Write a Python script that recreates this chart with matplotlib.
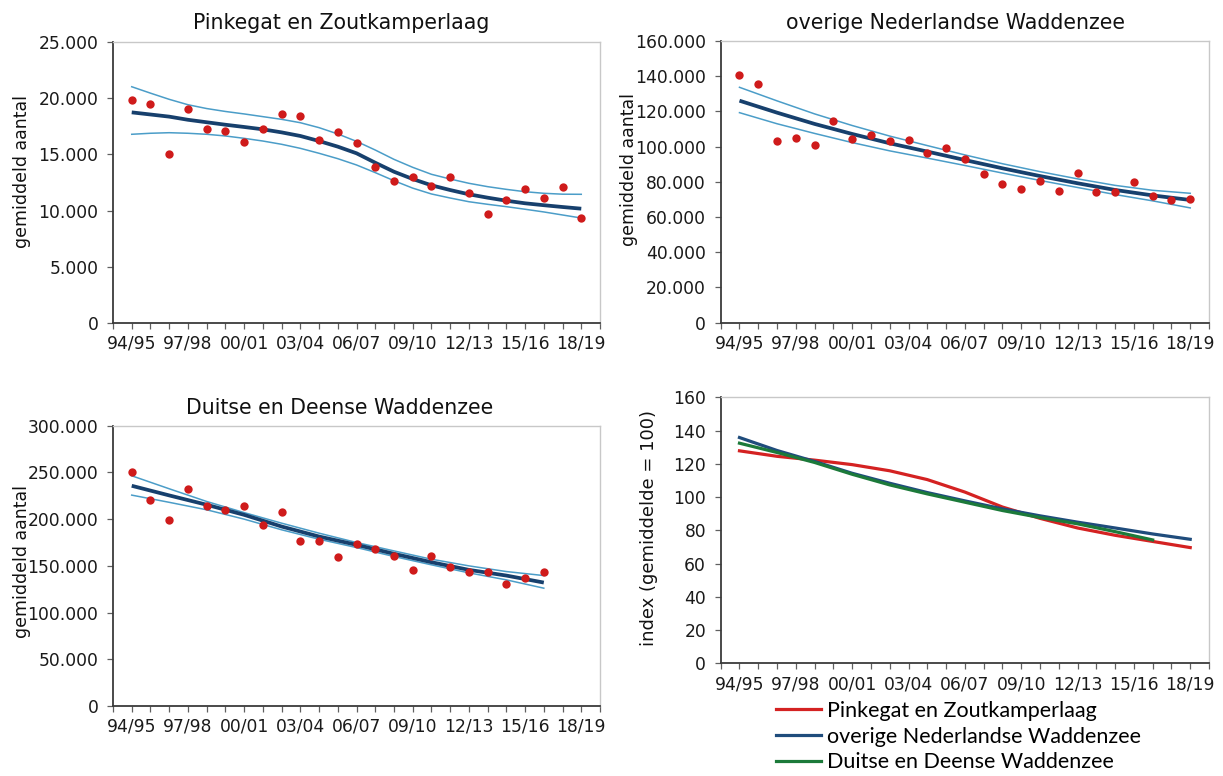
import matplotlib
matplotlib.use("Agg")
from matplotlib import pyplot as plt
from matplotlib.ticker import FuncFormatter, MultipleLocator, FixedLocator
import numpy as np

# seasons 94/95 .. 18/19
seasons = ["94/95", "95/96", "96/97", "97/98", "98/99", "99/00", "00/01", "01/02",
           "02/03", "03/04", "04/05", "05/06", "06/07", "07/08", "08/09", "09/10",
           "10/11", "11/12", "12/13", "13/14", "14/15", "15/16", "16/17", "17/18",
           "18/19"]
label_every = 3

# Pinkegat en Zoutkamperlaag - counts per season
pink_counts = [19800, 19500, 15000, 19050, 17250, 17100, 16100, 17300, 18550, 18400,
               16300, 17000, 16000, 13900, 12600, 12950, 12200, 12950, 11550, 9700,
               10950, 11900, 11150, 12100, 9300]
# trend + confidence band, every season
pink_trend = [18740, 18550, 18360, 18080, 17860, 17640, 17440, 17230, 16960, 16640,
              16190, 15690, 15100, 14260, 13460, 12810, 12250, 11830, 11450, 11150,
              10880, 10650, 10480, 10320, 10170]
pink_upper = [21020, 20450, 19900, 19420, 19080, 18820, 18600, 18360, 18120, 17820,
              17380, 16820, 16160, 15390, 14560, 13850, 13230, 12810, 12430, 12130,
              11890, 11680, 11540, 11460, 11450]
pink_lower = [16790, 16880, 16930, 16880, 16790, 16640, 16430, 16190, 15900, 15540,
              15100, 14620, 14060, 13380, 12660, 12000, 11480, 11120, 10790, 10560,
              10350, 10120, 9880, 9610, 9340]

# overige Nederlandse Waddenzee (trend read at every second season)
nl_counts = [140700, 135400, 103400, 104900, 100800, 114600, 104500, 106800, 103000,
             103600, 96200, 99000, 93200, 84500, 78800, 75900, 80500, 75000, 84800,
             74200, 74400, 79900, 72000, 69700, 70300]
nl_trend = [126100, 119300, 112900, 107200, 101900, 97200, 92400, 87700, 83300, 79200,
            75400, 72300, 69700]
nl_upper = [133700, 126000, 118600, 112000, 106000, 100600, 95300, 90300, 85800, 81700,
            78000, 75200, 73500]
nl_lower = [119300, 113000, 107500, 102300, 97600, 93500, 89300, 85000, 80800, 76800,
            72800, 69200, 65200]

# Duitse en Deense Waddenzee (up to 16/17)
de_counts = [250400, 220400, 199300, 232100, 213900, 210000, 213900, 193900, 207100,
             176400, 176800, 160000, 173200, 167900, 160400, 145400, 160400, 149300,
             143600, 142900, 131100, 137500, 143200]
de_trend = [235700, 225400, 215400, 204600, 192100, 181400, 172500, 162900, 153900,
            145700, 139600, 132100]
de_upper = [246400, 232500, 218900, 207000, 195700, 185000, 175000, 166000, 157100,
            150000, 143900, 139600]
de_lower = [225700, 218000, 210000, 200000, 188600, 178500, 169600, 160000, 151100,
            142500, 135000, 126100]

# index (gemiddelde = 100), every second season
idx_pink = [127.8, 124.5, 122.2, 119.5, 115.8, 110.5, 103.0, 94.0, 87.2, 81.4, 77.0,
            73.3, 69.6]
idx_nl = [135.8, 128.0, 121.4, 114.3, 108.3, 102.7, 97.7, 92.9, 88.7, 84.9, 81.4,
          77.8, 74.6]
idx_de = [132.4, 126.8, 120.8, 113.7, 107.3, 101.9, 96.9, 91.9, 87.7, 83.9, 79.2, 74.2]

names = ["Pinkegat en Zoutkamperlaag", "overige Nederlandse Waddenzee",
         "Duitse en Deense Waddenzee"]

DOT = "#cf1b1b"
TREND = "#17406d"
BAND = "#4b9dc8"
IDX_COLORS = ["#d42222", "#1f4c7c", "#1c7a3a"]

plt.rcParams["font.family"] = ["DejaVu Sans"]

fig = plt.figure(figsize=(12.23, 7.76), dpi=100)
W, H = 1223, 776


def px_axes(left, top, right, bottom):
    return fig.add_axes([left / W, 1 - bottom / H, (right - left) / W, (bottom - top) / H])


dutch = FuncFormatter(lambda v, p: f"{v:,.0f}".replace(",", "."))


def style(ax, ymax, ystep, fmt=True):
    ax.set_xlim(-1, 25)
    ax.set_ylim(0, ymax)
    ax.xaxis.set_major_locator(FixedLocator(range(-1, 26)))
    ax.set_xticklabels([seasons[i] if 0 <= i < len(seasons) and i % label_every == 0 else ""
                        for i in range(-1, 26)])
    ax.yaxis.set_major_locator(MultipleLocator(ystep))
    if fmt:
        ax.yaxis.set_major_formatter(dutch)
    ax.tick_params(axis="x", direction="out", length=4, width=0.9, color="#606060",
                   labelsize=12.3, pad=4.5, labelcolor="#1a1a1a")
    ax.tick_params(axis="y", direction="out", length=4.5, width=0.9, color="#606060",
                   labelsize=12.3, pad=6, labelcolor="#1a1a1a")
    for s in ("left", "bottom"):
        ax.spines[s].set_color("#3a3a3a")
        ax.spines[s].set_linewidth(1.3)
    for s in ("top", "right"):
        ax.spines[s].set_color("#c8c8c8")
        ax.spines[s].set_linewidth(1.0)


def count_panel(ax, counts, trend, upper, lower, step, ymax, ystep):
    xt = np.arange(len(trend)) * step
    ax.plot(xt, upper, color=BAND, lw=1.1, zorder=2)
    ax.plot(xt, lower, color=BAND, lw=1.1, zorder=2)
    ax.plot(xt, trend, color=TREND, lw=2.7, zorder=3, solid_capstyle="butt")
    ax.plot(np.arange(len(counts)), counts, "o", color=DOT, ms=6, mec="none", zorder=4)
    style(ax, ymax, ystep)


ax1 = px_axes(113, 42, 600, 323)
count_panel(ax1, pink_counts, pink_trend, pink_upper, pink_lower, 1, 25000, 5000)
ax2 = px_axes(720.7, 41, 1209, 322.7)
count_panel(ax2, nl_counts, nl_trend, nl_upper, nl_lower, 2, 160000, 20000)
ax3 = px_axes(113, 425.7, 600, 706)
count_panel(ax3, de_counts, de_trend, de_upper, de_lower, 2, 300000, 50000)

ax4 = px_axes(720.7, 397.3, 1209, 663.3)
handles = []
for vals, col, name in zip([idx_pink, idx_nl, idx_de], IDX_COLORS, names):
    ln, = ax4.plot(np.arange(len(vals)) * 2, vals, color=col, lw=2.3, label=name)
    handles.append(ln)
style(ax4, 160, 20, fmt=False)

# titles
fig.text(341 / W, 1 - 29 / H, names[0], ha="center", va="baseline", fontsize=14.8, color="#111")
fig.text(956 / W, 1 - 29 / H, names[1], ha="center", va="baseline", fontsize=14.8, color="#111")
fig.text(340 / W, 1 - 414 / H, names[2], ha="center", va="baseline", fontsize=14.8, color="#111")

# axis labels
fig.text(22 / W, 1 - 172 / H, "gemiddeld aantal", rotation=90, ha="center", va="center",
         fontsize=12.5, color="#111")
fig.text(22 / W, 1 - 562 / H, "gemiddeld aantal", rotation=90, ha="center", va="center",
         fontsize=12.5, color="#111")
fig.text(629 / W, 1 - 170 / H, "gemiddeld aantal", rotation=90, ha="center", va="center",
         fontsize=12.5, color="#111")
fig.text(649 / W, 1 - 528 / H, "index (gemiddelde = 100)", rotation=90, ha="center",
         va="center", fontsize=13, color="#111")

fig.legend(handles=handles, loc="upper left", bbox_to_anchor=(776 / W, 1 - 701 / H),
           frameon=False, borderpad=0, borderaxespad=0, handlelength=2.1,
           handletextpad=0.25, labelspacing=0.26, prop={"family": "Lato", "size": 15.5})

fig.savefig("out.png", dpi=100, facecolor="white")
